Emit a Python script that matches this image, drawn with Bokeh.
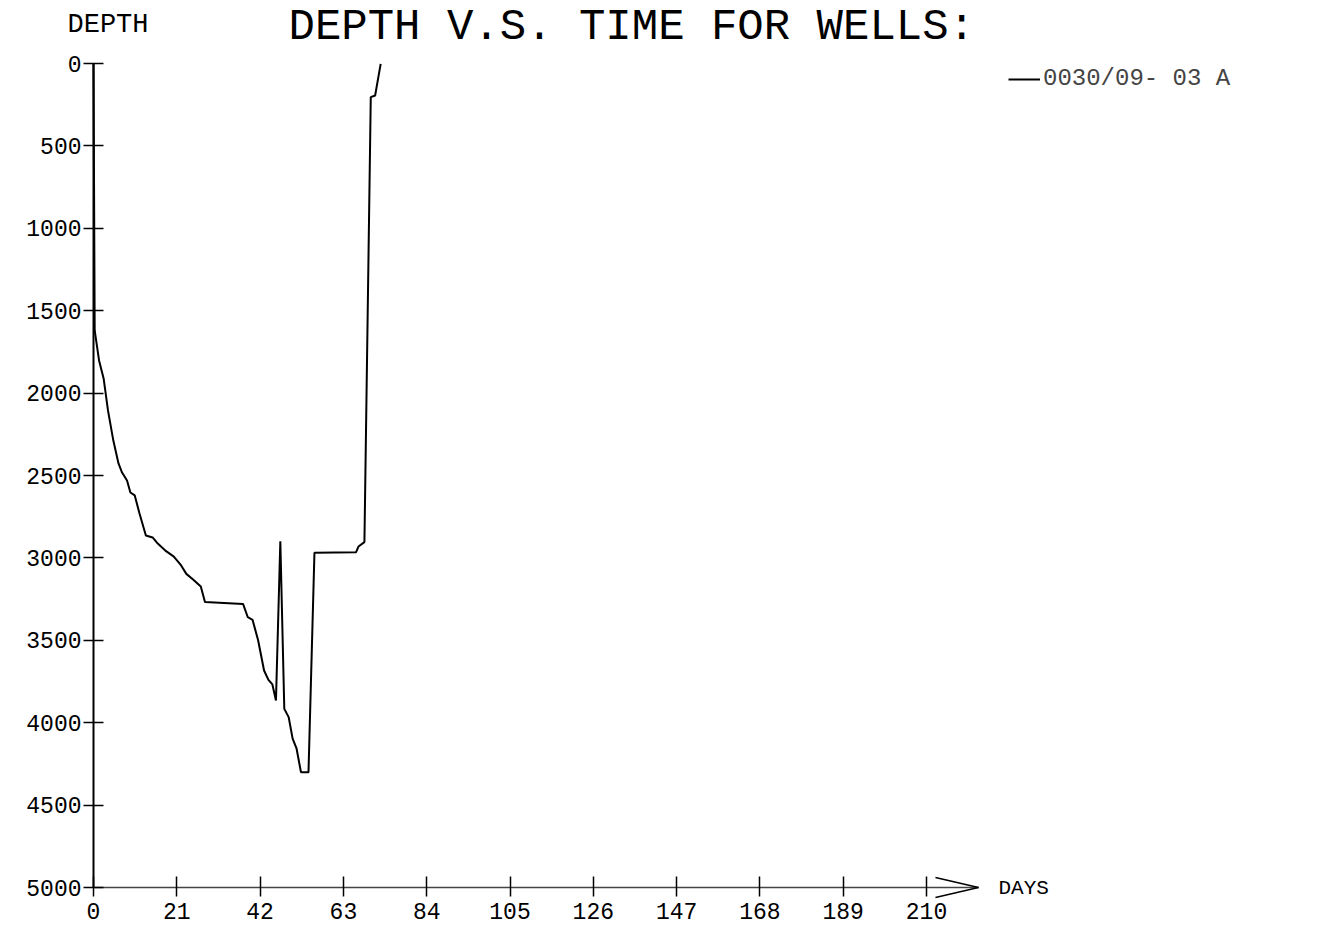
from bokeh.plotting import figure
from bokeh.models import (Range1d, FixedTicker, Label, Legend, LegendItem, Arrow)
from bokeh.embed import file_html
from bokeh.resources import INLINE

# ---- data ----
days = [0.0, 0.3, 1.4, 2.55, 3.65, 5.0, 6.3, 7.2, 8.45, 9.3, 10.4, 11.6, 13.2,
        14.9, 16.2, 18.3, 20.25, 22.1, 23.4, 25.1, 27.05, 28.1, 37.7, 38.9,
        40.1, 41.5, 43.0, 44.1, 45.1, 46.0, 47.1, 48.1, 49.2, 50.2, 51.2,
        52.3, 54.2, 55.7, 66.2, 66.8, 68.3, 69.9, 71.0, 72.4]
depth = [0, 1620, 1802, 1911, 2105, 2288, 2427, 2482, 2530, 2603, 2621, 2731,
         2864, 2876, 2913, 2959, 2992, 3046, 3097, 3131, 3174, 3268, 3279,
         3360, 3376, 3500, 3683, 3740, 3768, 3865, 2899, 3916, 3966, 4097,
         4158, 4300, 4300, 2969, 2965, 2931, 2904, 204, 194, 2]
series_name = "0030/09- 03 A"
x_ticks = [0, 21, 42, 63, 84, 105, 126, 147, 168, 189, 210]
y_ticks = [0, 500, 1000, 1500, 2000, 2500, 3000, 3500, 4000, 4500, 5000]
title_text = "DEPTH V.S. TIME FOR WELLS:"
y_title = "DEPTH"
x_title = "DAYS"

FONT = "Liberation Mono"
W, H = 1320, 930
# pixel layout of the axes
X0_PX, X210_PX = 93, 926          # day 0 and day 210
Y0_PX, Y5000_PX = 63, 887         # depth 0 and depth 5000
X_END = 223.1                     # end of the x axis line (arrow tip)

ppd = (X210_PX - X0_PX) / 210.0
ppy = (Y5000_PX - Y0_PX) / 5000.0
x_range = Range1d(-X0_PX / ppd, (W - X0_PX) / ppd)
y_range = Range1d((H - Y0_PX) / ppy, -Y0_PX / ppy)

p = figure(width=W, height=H, output_backend="svg", toolbar_location=None,
           x_range=x_range, y_range=y_range,
           min_border_left=0, min_border_right=0, min_border_top=0,
           min_border_bottom=0)
p.title.visible = False
p.outline_line_color = None
p.xgrid.visible = False
p.ygrid.visible = False
p.background_fill_color = "white"

# axes (fixed at the data origin)
xa = p.xaxis[0]
xa.fixed_location = 5000
xa.bounds = (0, X_END)
xa.ticker = FixedTicker(ticks=x_ticks)
xa.axis_line_color = "#444444"
xa.axis_line_width = 1.5
xa.major_tick_in = 11
xa.major_tick_out = 9
xa.major_tick_line_color = "black"
xa.major_tick_line_width = 1.5
xa.minor_tick_line_color = None
xa.major_label_text_font = FONT
xa.major_label_text_font_size = "23px"
xa.major_label_text_color = "black"
xa.major_label_standoff = 6

ya = p.yaxis[0]
ya.fixed_location = 0
ya.bounds = (0, 5000)
ya.ticker = FixedTicker(ticks=y_ticks)
ya.axis_line_color = "black"
ya.axis_line_width = 2
ya.major_tick_in = 10
ya.major_tick_out = 10
ya.major_tick_line_color = "black"
ya.major_tick_line_width = 1.5
ya.minor_tick_line_color = None
ya.major_label_text_font = FONT
ya.major_label_text_font_size = "23px"
ya.major_label_text_color = "black"
ya.major_label_standoff = 2

# arrow head at the end of the x axis
head_len = 43 / ppd
head_half = 10 / ppy
for sgn in (-1, 1):
    p.add_layout(Arrow(end=None, x_start=X_END - head_len, y_start=5000 + sgn * head_half,
                       x_end=X_END, y_end=5000, line_color="black", line_width=1.5))

# data line
r = p.line(days, depth, line_color="black", line_width=2)

legend = Legend(items=[LegendItem(label=series_name, renderers=[r])],
                location=(1008, H - 92), padding=0, margin=0, spacing=0,
                glyph_width=32, glyph_height=20, label_height=20, label_standoff=3,
                label_text_font=FONT, label_text_font_size="24px",
                border_line_color=None, background_fill_alpha=0)
p.add_layout(legend, "center")

# texts (baseline positions in pixels, shifted for bokeh's alphabetic anchor)
def text_at(px, base_px, txt, size):
    p.add_layout(Label(x=(px - X0_PX) / ppd, y=(base_px - 0.33 * size - Y0_PX) / ppy,
                       text=txt, text_font=FONT, text_font_size=f"{size}px",
                       text_color="black", text_baseline="alphabetic",
                       text_align="left"))

text_at(288, 41, title_text, 44)
text_at(67, 33, y_title, 27)
text_at(998, 895, x_title, 21)

open("out.html", "w").write(file_html(p, INLINE))
